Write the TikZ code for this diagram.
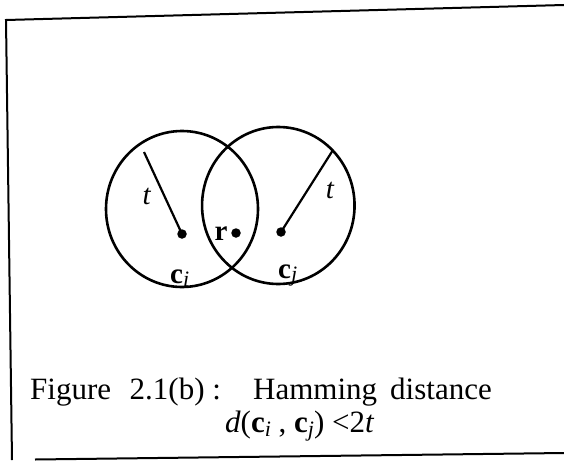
\documentclass[tikz,border=0pt]{standalone}
\usepackage{fontspec}
\setmainfont{Liberation Serif}
\usetikzlibrary{shapes.geometric}
\begin{document}
\begin{tikzpicture}[x=1pt,y=-1pt,
  ring/.style={draw,ellipse,inner sep=0pt,line width=2.6pt},
  pt/.style={circle,fill,inner sep=0pt,minimum size=9.5pt},
  radius line/.style={line width=2.2pt},
  frame/.style={line width=2pt},
  lbl/.style={inner sep=0pt,font=\fontsize{29}{31}\selectfont},
  captext/.style={inner sep=0pt,anchor=base west,font=\fontsize{31}{33}\selectfont}]
\useasboundingbox (0,0) rectangle (564,460);
% frame
\coordinate (tl) at (6,20);
\coordinate (tr) at (564,5);
\coordinate (bl) at (12,460);
\coordinate (b1) at (35,459.5);
\coordinate (b2) at (564,453);
\draw[frame] (tr) -- (tl) -- (bl);
\draw[frame] (b1) -- (b2);
% circles
\node[ring,minimum width=152pt,minimum height=156pt] (Ci) at (182,209) {};
\node[ring,minimum width=152.5pt,minimum height=157pt] (Cj) at (278.3,205.5) {};
% points
\node[pt] (ci) at (182,234) {};
\node[pt] (r) at (236,233) {};
\node[pt] (cj) at (281,232) {};
\coordinate (ti) at (144,152);
\coordinate (tj) at (333,150);
\draw[radius line] (ci.center) -- (ti);
\draw[radius line] (cj.center) -- (tj);
% labels
\node[lbl] (tl1) at (146.7,196.7) {\itshape t};
\node[lbl] (tl2) at (330,190) {\itshape t};
\node[lbl] (rl) at (221,234) {\bfseries r};
\node[lbl,anchor=base west] (cil) at (170,283) {\bfseries c\raisebox{-3pt}{\fontsize{22}{22}\selectfont\mdseries\itshape i}};
\node[lbl,anchor=base west] (cjl) at (278,278) {\bfseries c\raisebox{-3pt}{\fontsize{22}{22}\selectfont\mdseries\itshape j}};
% caption
\node[captext] (fig) at (30,399) {Figure};
\node[captext] (num) at (129.5,399) {2.1(b) :};
\node[captext] (ham) at (253,399) {Hamming};
\node[captext] (dist) at (390,399) {distance};
\node[captext] (eq) at (225,432) {\itshape d\upshape(\textbf{c}\raisebox{-4pt}{\fontsize{22}{22}\selectfont\itshape i} , \textbf{c}\raisebox{-4pt}{\fontsize{22}{22}\selectfont\itshape j}) <2\textit{t}};
\end{tikzpicture}
\end{document}
